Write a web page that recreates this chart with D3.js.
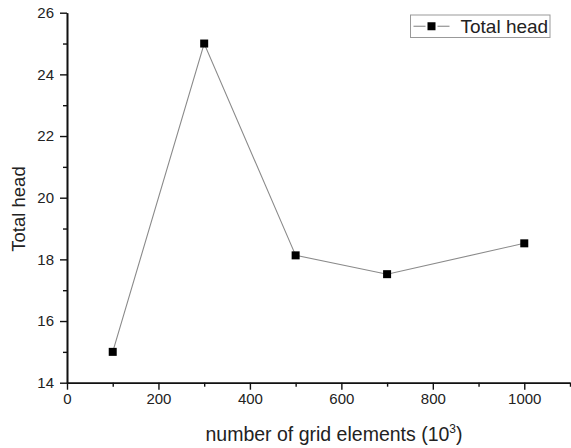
<!DOCTYPE html>
<html>
<head>
<meta charset="utf-8">
<script src="https://cdn.jsdelivr.net/npm/d3@7"></script>
<style>
  body { margin: 0; background: #fff; }
  text { font-family: "Liberation Sans", Arial, sans-serif; fill: #222; }
</style>
</head>
<body>
<svg id="chart"></svg>
<script>
const width = 571;
const height = 448;
const margin = { top: 12.7, right: 1, bottom: 65.3, left: 67 };

// DATA
const gridElements = [100, 300, 500, 700, 1000];
const totalHead = [15.0, 25.0, 18.13, 17.52, 18.52];
const xTicks = [0, 200, 400, 600, 800, 1000];
const yTicks = [14, 16, 18, 20, 22, 24, 26];
const seriesName = "Total head";

const data = gridElements.map((g, i) => ({ x: g, y: totalHead[i] }));

const svg = d3.select("#chart")
  .attr("width", width)
  .attr("height", height);

// SCALES
const xScale = d3.scaleLinear()
  .domain([0, 1100])
  .range([margin.left, width - margin.right]);

const yScale = d3.scaleLinear()
  .domain([14, 26])
  .range([height - margin.bottom, margin.top]);

// MINOR TICKS
const xMinor = d3.axisBottom(xScale)
  .tickValues(d3.range(100, 1101, 200))
  .tickSize(4).tickSizeOuter(0).tickFormat("");
const yMinor = d3.axisLeft(yScale)
  .tickValues(d3.range(15, 26, 2))
  .tickSize(4).tickSizeOuter(0).tickFormat("");

svg.append("g")
  .attr("transform", `translate(0, ${height - margin.bottom})`)
  .call(xMinor);
svg.append("g")
  .attr("transform", `translate(${margin.left}, 0)`)
  .call(yMinor);

// MAJOR AXES
const xAxis = d3.axisBottom(xScale)
  .tickValues(xTicks)
  .tickFormat(d3.format("d"))
  .tickSize(7).tickSizeOuter(0).tickPadding(4);
const yAxis = d3.axisLeft(yScale)
  .tickValues(yTicks)
  .tickFormat(d3.format("d"))
  .tickSize(7).tickSizeOuter(0).tickPadding(6);

svg.append("g")
  .attr("transform", `translate(0, ${height - margin.bottom})`)
  .call(xAxis);
svg.append("g")
  .attr("transform", `translate(${margin.left}, 0)`)
  .call(yAxis);

svg.selectAll(".domain").attr("stroke", "#111").attr("stroke-width", 1.6);
svg.selectAll(".tick line").attr("stroke", "#111").attr("stroke-width", 1.4);
svg.selectAll(".tick text")
  .style("font-size", "15px")
  .style("font-family", "Liberation Sans, Arial, sans-serif")
  .attr("fill", "#222");

// LINE
const line = d3.line()
  .x(d => xScale(d.x))
  .y(d => yScale(d.y));

svg.append("path")
  .datum(data)
  .attr("fill", "none")
  .attr("stroke", "#8a8a8a")
  .attr("stroke-width", 1.1)
  .attr("d", line);

// MARKERS
svg.selectAll("rect.marker")
  .data(data)
  .enter()
  .append("rect")
    .attr("class", "marker")
    .attr("x", d => xScale(d.x) - 4)
    .attr("y", d => yScale(d.y) - 4)
    .attr("width", 8)
    .attr("height", 8)
    .attr("fill", "#000");

// LEGEND
const legend = svg.append("g").attr("transform", "translate(410.5, 15)");
legend.append("rect")
  .attr("width", 139.5)
  .attr("height", 22.5)
  .attr("fill", "#fff")
  .attr("stroke", "#999")
  .attr("stroke-width", 1);
legend.selectAll("line")
  .data([[3, 15], [27, 39]])
  .enter()
  .append("line")
    .attr("x1", d => d[0]).attr("x2", d => d[1])
    .attr("y1", 11.25).attr("y2", 11.25)
    .attr("stroke", "#8a8a8a")
    .attr("stroke-width", 1.1);
legend.append("rect")
  .attr("x", 17).attr("y", 7.25)
  .attr("width", 8).attr("height", 8)
  .attr("fill", "#000");
legend.append("text")
  .attr("x", 50)
  .attr("y", 18)
  .style("font-size", "19px")
  .text(seriesName);

// AXIS LABELS
svg.append("text")
  .attr("x", 334)
  .attr("y", 441)
  .style("text-anchor", "middle")
  .style("font-size", "19.5px")
  .html("number of grid elements (10<tspan dy='-8' font-size='12px'>3</tspan><tspan dy='8'>)</tspan>");

svg.append("text")
  .attr("transform", "rotate(-90)")
  .attr("x", -209)
  .attr("y", 25)
  .style("text-anchor", "middle")
  .style("font-size", "18.5px")
  .text("Total head");
</script>
</body>
</html>
